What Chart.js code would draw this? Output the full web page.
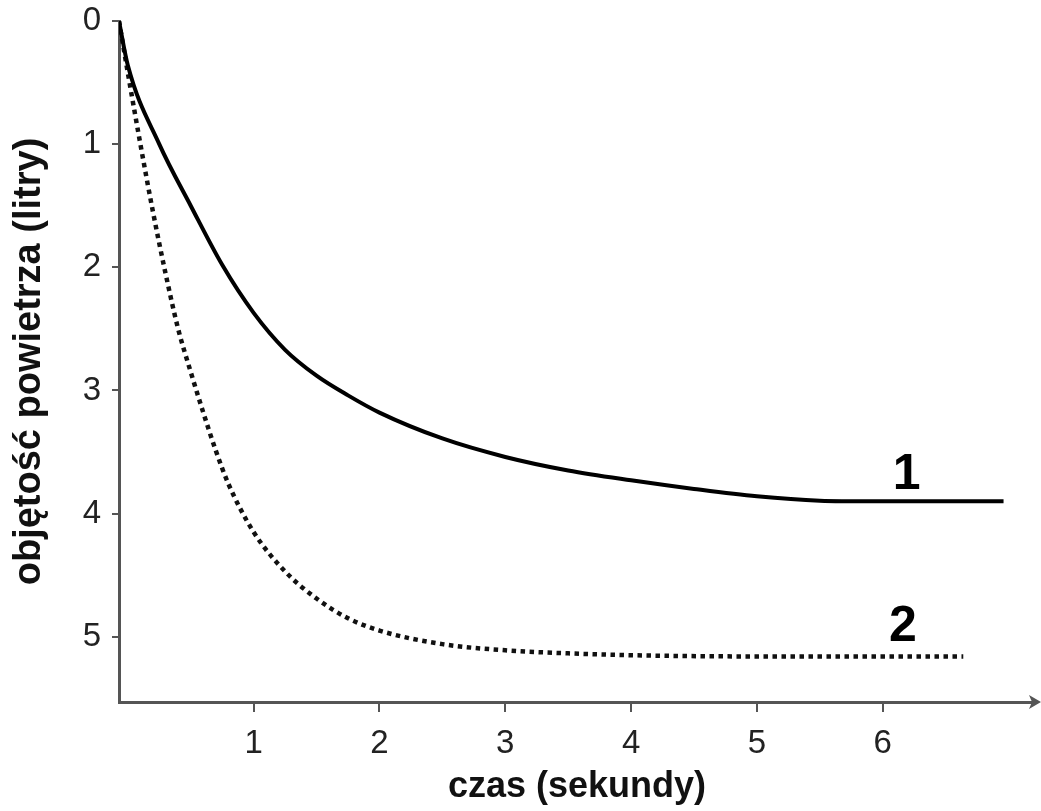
<!DOCTYPE html>
<html>
<head>
<meta charset="utf-8">
<script src="https://cdn.jsdelivr.net/npm/chart.js@4/dist/chart.umd.min.js"></script>
<style>
  html, body { margin: 0; padding: 0; background: #fff; }
  #wrap { width: 1041px; height: 811px; }
</style>
</head>
<body>
<div id="wrap"><canvas id="myChart" width="1041" height="811"></canvas></div>
<script>
// values (time in s, volume in litres)
const xTicks = [1, 2, 3, 4, 5, 6];
const yTicks = [0, 1, 2, 3, 4, 5];
const seriesNames = ["1", "2"];

const curve1Time = [-0.07, 0, 0.25, 0.5, 0.75, 1.0, 1.25, 1.5, 1.75, 2.0, 2.5, 3.0, 3.5, 4.0, 4.5, 5.0, 5.5, 5.92, 6.96];
const curve1Vol  = [0, 0.36, 1.0, 1.50, 1.98, 2.37, 2.67, 2.88, 3.04, 3.18, 3.39, 3.54, 3.65, 3.73, 3.80, 3.86, 3.895, 3.90, 3.90];

const curve2Time = [-0.07, 0, 0.1, 0.2, 0.3, 0.4, 0.5, 0.6, 0.7, 0.8, 1.0, 1.25, 1.5, 1.75, 2.0, 2.5, 3.0, 3.5, 4.0, 5.0, 6.64];
const curve2Vol  = [0, 0.42, 1.00, 1.55, 2.05, 2.50, 2.85, 3.18, 3.49, 3.76, 4.15, 4.47, 4.69, 4.85, 4.95, 5.06, 5.11, 5.135, 5.15, 5.16, 5.16];

document.addEventListener("DOMContentLoaded", () => {
  const ctx = document.getElementById("myChart").getContext("2d");
  Chart.defaults.font.family = "'Liberation Sans', Arial, sans-serif";

  const toPoints = (xs, ys) => xs.map((x, i) => ({ x: x, y: ys[i] }));
  const axisColor = "#555";

  // curve numbers and the arrow at the end of the time axis
  const extras = {
    id: "extras",
    afterDatasetsDraw(chart) {
      const c = chart.ctx;
      const xs = chart.scales.x, ys = chart.scales.y;
      c.save();
      c.fillStyle = "#000";
      c.font = "bold 50px 'Liberation Sans', Arial, sans-serif";
      c.textAlign = "center";
      c.textBaseline = "middle";
      c.fillText(seriesNames[0], xs.getPixelForValue(6.19), ys.getPixelForValue(3.69));
      c.fillText(seriesNames[1], xs.getPixelForValue(6.16), ys.getPixelForValue(4.92));

      const ax = chart.chartArea.right, ay = chart.chartArea.bottom;
      c.fillStyle = axisColor;
      c.beginPath();
      c.moveTo(ax + 6, ay);
      c.lineTo(ax - 6, ay - 7);
      c.lineTo(ax - 3, ay);
      c.lineTo(ax - 6, ay + 7);
      c.closePath();
      c.fill();
      c.restore();
    }
  };

  new Chart(ctx, {
    type: "line",
    data: {
      datasets: [
        {
          label: seriesNames[0],
          data: toPoints(curve1Time, curve1Vol),
          borderColor: "#000",
          borderWidth: 4,
          pointRadius: 0,
          cubicInterpolationMode: "monotone",
          fill: false
        },
        {
          label: seriesNames[1],
          data: toPoints(curve2Time, curve2Vol),
          borderColor: "#111",
          borderWidth: 4.5,
          borderDash: [4.5, 4.5],
          pointRadius: 0,
          cubicInterpolationMode: "monotone",
          fill: false
        }
      ]
    },
    options: {
      responsive: false,
      animation: false,
      layout: { padding: { top: 21, right: 6, left: 0, bottom: 0 } },
      plugins: {
        legend: { display: false },
        tooltip: { enabled: false }
      },
      scales: {
        x: {
          type: "linear",
          min: -0.07,
          max: 7.21,
          afterBuildTicks: (s) => { s.ticks = xTicks.map(v => ({ value: v })); },
          afterFit: (s) => { s.height = 109; s.paddingLeft = 0; s.paddingRight = 0; },
          border: { display: true, color: axisColor, width: 3 },
          grid: { drawOnChartArea: false, drawTicks: true, tickLength: 10, color: axisColor, lineWidth: 2 },
          ticks: { color: "#222", font: { size: 33 }, padding: 12, maxRotation: 0 },
          title: {
            display: true,
            text: "czas (sekundy)",
            color: "#111",
            font: { size: 36, weight: "bold" },
            padding: { top: 0, bottom: 2 }
          }
        },
        y: {
          type: "linear",
          min: 0,
          max: 5.53,
          reverse: true,
          afterBuildTicks: (s) => { s.ticks = yTicks.map(v => ({ value: v })); },
          afterFit: (s) => { s.width = 119; s.paddingTop = 0; s.paddingBottom = 0; },
          border: { display: true, color: axisColor, width: 3 },
          grid: { drawOnChartArea: false, drawTicks: true, tickLength: 7, color: axisColor, lineWidth: 2 },
          ticks: { color: "#222", font: { size: 33 }, padding: 11 },
          title: {
            display: true,
            text: "objętość powietrza (litry)",
            color: "#111",
            font: { size: 38, weight: "bold" },
            padding: { top: 7, bottom: 0 }
          }
        }
      }
    },
    plugins: [extras]
  });
});
</script>
</body>
</html>
